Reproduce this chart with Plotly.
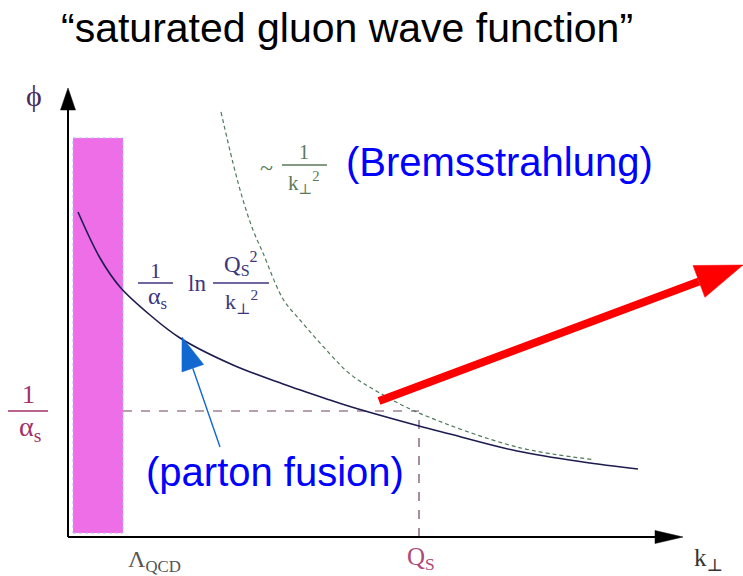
import numpy as np
import plotly.graph_objects as go

W, H = 743, 576
# Chart units: origin where the two axes cross, 1 unit = 50 px on both axes
OX, OY, S = 68, 537, 50

# ---- data (arbitrary units) ----
# saturated regime: (1/alpha_s) ln(Qs^2 / k^2)
k_sat = [0.20, 0.64, 1.04, 1.64, 2.24, 3.30, 4.30, 5.24, 5.64, 7.02, 7.64, 8.98, 10.30, 11.40]
phi_sat = [6.50, 5.58, 5.00, 4.44, 3.98, 3.44, 3.06, 2.74, 2.61, 2.22, 2.06, 1.72, 1.50, 1.36]

# Bremsstrahlung ~ 1/k^2
k_brem = [3.06, 3.30, 3.50, 3.70, 3.90, 4.30, 4.64, 5.24, 5.64, 6.20, 7.02, 8.98, 10.50]
phi_brem = [8.50, 7.48, 6.74, 6.14, 5.68, 4.76, 4.34, 3.66, 3.26, 2.90, 2.48, 1.80, 1.55]

QS = 7.02            # saturation scale on k axis
INV_ALPHA = 2.52     # 1/alpha_s level on phi axis
LQCD_K = [0.10, 1.10]    # Lambda_QCD band (k range)
LQCD_PHI = [0.08, 7.98]  # band height

X_AXIS_END = 12.30
Y_AXIS_END = 8.98

RED_ARROW = [(6.22, 2.72), (13.50, 5.44)]
BLUE_ARROW = [(3.04, 1.80), (2.28, 4.00)]

SANS = "Liberation Sans, Arial, sans-serif"
SERIF = "Liberation Serif, Times New Roman, DejaVu Serif, serif"


def head(p0, p1, length, width):
    (x0, y0), (x1, y1) = p0, p1
    dx, dy = x1 - x0, y1 - y0
    L = np.hypot(dx, dy)
    ux, uy = dx / L, dy / L
    bx, by = x1 - ux * length, y1 - uy * length
    px, py = -uy * width / 2, ux * width / 2
    return [x1, bx + px, bx - px, x1], [y1, by + py, by - py, y1], (bx, by)


fig = go.Figure()

# Lambda_QCD band
fig.add_trace(go.Scatter(
    x=[LQCD_K[0], LQCD_K[1], LQCD_K[1], LQCD_K[0], LQCD_K[0]],
    y=[LQCD_PHI[0], LQCD_PHI[0], LQCD_PHI[1], LQCD_PHI[1], LQCD_PHI[0]],
    mode="lines", fill="toself", fillcolor="#ee6ee8",
    line=dict(color="#a8b8ff", width=1, dash="dot"), hoverinfo="skip"))

# guide lines
fig.add_trace(go.Scatter(x=[LQCD_K[1], QS], y=[INV_ALPHA, INV_ALPHA], mode="lines",
                         line=dict(color="#6e4060", width=1.2, dash="dash"), hoverinfo="skip"))
fig.add_trace(go.Scatter(x=[QS, QS], y=[0, INV_ALPHA], mode="lines",
                         line=dict(color="#6e4060", width=1.2, dash="dash"), hoverinfo="skip"))

# Bremsstrahlung curve
fig.add_trace(go.Scatter(x=k_brem, y=phi_brem, mode="lines",
                         line=dict(color="#4f7a5c", width=1.2, dash="4px,3px", shape="spline", smoothing=1.0),
                         hoverinfo="skip"))
# saturated curve
fig.add_trace(go.Scatter(x=k_sat, y=phi_sat, mode="lines",
                         line=dict(color="#1c1c50", width=1.6, shape="spline", smoothing=1.0),
                         hoverinfo="skip"))

# axes
yh_x, yh_y, (ybx, yby) = head((0, 0), (0, Y_AXIS_END), 0.44, 0.30)
xh_x, xh_y, (xbx, xby) = head((0, 0), (X_AXIS_END, 0), 0.56, 0.26)
fig.add_trace(go.Scatter(x=[0, 0], y=[0, yby], mode="lines", line=dict(color="black", width=2), hoverinfo="skip"))
fig.add_trace(go.Scatter(x=[0, xbx], y=[0, 0], mode="lines", line=dict(color="black", width=2), hoverinfo="skip"))
for hx, hy in [(yh_x, yh_y), (xh_x, xh_y)]:
    fig.add_trace(go.Scatter(x=hx, y=hy, mode="lines", fill="toself", fillcolor="black",
                             line=dict(color="black", width=0.5), hoverinfo="skip"))

# red arrow
rx, ry, (rbx, rby) = head(RED_ARROW[0], RED_ARROW[1], 0.94, 0.68)
fig.add_trace(go.Scatter(x=[RED_ARROW[0][0], rbx], y=[RED_ARROW[0][1], rby], mode="lines",
                         line=dict(color="#ff0000", width=8), hoverinfo="skip"))
fig.add_trace(go.Scatter(x=rx, y=ry, mode="lines", fill="toself", fillcolor="#ff0000",
                         line=dict(color="#ff0000", width=0.5), hoverinfo="skip"))

# blue arrow
bxs, bys, (bbx, bby) = head(BLUE_ARROW[0], BLUE_ARROW[1], 0.66, 0.46)
fig.add_trace(go.Scatter(x=[BLUE_ARROW[0][0], bbx], y=[BLUE_ARROW[0][1], bby], mode="lines",
                         line=dict(color="#1068d0", width=1.4), hoverinfo="skip"))
fig.add_trace(go.Scatter(x=bxs, y=bys, mode="lines", fill="toself", fillcolor="#1068d0",
                         line=dict(color="#1068d0", width=0.5), hoverinfo="skip"))


def ann(text, xp, yp, size, color, family=SERIF, xanchor="center"):
    return dict(text=text, x=xp / W, y=1 - yp / H, xref="paper", yref="paper",
                showarrow=False, font=dict(size=size, color=color, family=family),
                xanchor=xanchor, yanchor="middle")


def bar(x0, x1, yp, color):
    return dict(type="line", xref="paper", yref="paper", x0=x0 / W, x1=x1 / W,
                y0=1 - yp / H, y1=1 - yp / H, line=dict(color=color, width=1.4))


anns = [
    ann("\u201csaturated gluon wave function\u201d", 347, 28, 41, "black", SANS),
    ann("(Bremsstrahlung)", 500, 162, 40, "#0000ff", SANS),
    ann("(parton fusion)", 275, 472, 40, "#0000ff", SANS),
    ann("\u03d5", 34, 96, 30, "#4a2a5a"),
    # 1/alpha_s on axis
    ann("1", 28, 394, 26, "#a0306a"),
    ann("\u03b1<sub>s</sub>", 30, 428, 28, "#a0306a"),
    ann("\u039b<sub>QCD</sub>", 154, 561, 24, "#555555"),
    ann("Q<sub>S</sub>", 421, 558, 25, "#b04a7a"),
    ann("k<sub>\u22a5</sub>", 708, 559, 25, "#333333"),
    # ~ 1/k^2
    ann("~", 266, 168, 24, "#5a7a5a"),
    ann("1", 304, 152, 20, "#5a7a5a"),
    ann("k<sub>\u22a5</sub><sup>2</sup>", 304, 183, 21, "#5a7a5a"),
    # 1/alpha_s ln Qs^2/k^2
    ann("1", 155, 270, 22, "#3e3580"),
    ann("\u03b1<sub>s</sub>", 157, 298, 24, "#3e3580"),
    ann("ln", 197, 283, 23, "#3e3580"),
    ann("Q<sub>S</sub><sup>2</sup>", 241, 264, 23, "#3e3580"),
    ann("k<sub>\u22a5</sub><sup>2</sup>", 241, 301, 22, "#3e3580"),
]
shapes = [
    bar(8, 48, 411, "#a0306a"),
    bar(282, 327, 165, "#5a7a5a"),
    bar(138, 173, 283, "#3e3580"),
    bar(213, 269, 283, "#3e3580"),
]

fig.update_layout(
    width=W, height=H, margin=dict(l=0, r=0, t=0, b=0),
    paper_bgcolor="white", plot_bgcolor="white", showlegend=False,
    xaxis=dict(range=[-OX / S, (W - OX) / S], visible=False, fixedrange=True),
    yaxis=dict(range=[-(H - OY) / S, OY / S], visible=False, fixedrange=True),
    annotations=anns, shapes=shapes,
)

fig.write_html("out.html")
